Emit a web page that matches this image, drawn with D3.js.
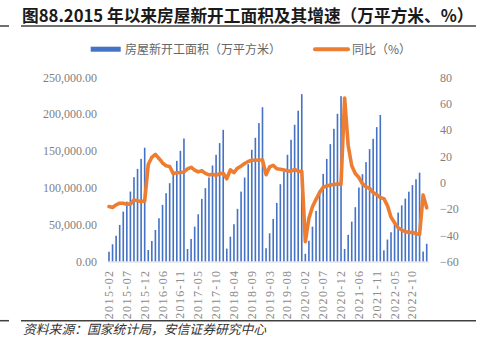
<!DOCTYPE html>
<html><head><meta charset="utf-8">
<script src="https://cdn.jsdelivr.net/npm/d3@7/dist/d3.min.js"></script>
<style>
html,body{margin:0;padding:0;background:#fff;}
svg{display:block;}
</style></head>
<body>
<svg id="chart" width="480" height="339"></svg>
<script>
const title = "图88.2015 年以来房屋新开工面积及其增速（万平方米、%）";
const source = "资料来源：国家统计局，安信证券研究中心";
const seriesNames = ["房屋新开工面积（万平方米）", "同比（%）"];
const categories = [
"2015-02","2015-03","2015-04","2015-05","2015-06","2015-07","2015-08","2015-09","2015-10","2015-11","2015-12",
"2016-02","2016-03","2016-04","2016-05","2016-06","2016-07","2016-08","2016-09","2016-10","2016-11","2016-12",
"2017-02","2017-03","2017-04","2017-05","2017-06","2017-07","2017-08","2017-09","2017-10","2017-11","2017-12",
"2018-02","2018-03","2018-04","2018-05","2018-06","2018-07","2018-08","2018-09","2018-10","2018-11","2018-12",
"2019-02","2019-03","2019-04","2019-05","2019-06","2019-07","2019-08","2019-09","2019-10","2019-11","2019-12",
"2020-02","2020-03","2020-04","2020-05","2020-06","2020-07","2020-08","2020-09","2020-10","2020-11","2020-12",
"2021-02","2021-03","2021-04","2021-05","2021-06","2021-07","2021-08","2021-09","2021-10","2021-11","2021-12",
"2022-02","2022-03","2022-04","2022-05","2022-06","2022-07","2022-08","2022-09","2022-10","2022-11","2022-12",
"2023-02","2023-03"];
const area = [
13300,23400,35000,49600,67700,81300,94900,114400,125700,139300,154454,
15600,27900,42800,58700,76800,92700,106300,119900,136600,150200,166928,
17000,30600,47300,64100,85000,99500,114000,130300,144800,160700,178654,
17500,33700,50600,71400,94900,114000,132100,151600,167900,187900,209342,
18000,38300,57800,79500,104900,122000,144800,165200,185600,204600,227154,
10370,28203,47300,68700,97200,118900,139300,159300,180100,200500,224433,
17035,36163,54100,73700,100400,118500,134900,152500,166500,182400,198895,
15115,29838,39739,51628,66423,76220,85341,94767,103722,111632,120587,
13567,24121];
const yoy = [
-18.2,-19.0,-17.0,-15.7,-15.7,-16.4,-16.4,-13.2,-13.9,-14.4,-14.0,
13.7,19.2,21.4,18.3,14.9,12.8,12.2,6.8,7.4,7.6,8.1,
10.4,11.6,9.5,8.1,9.0,7.0,5.8,6.3,5.5,6.8,7.0,
2.9,9.7,7.5,10.9,12.5,14.5,16.0,17.0,17.0,17.2,17.2,
6.0,11.9,13.1,10.5,10.1,9.5,8.9,8.6,10.0,8.6,8.5,
-44.9,-27.2,-18.4,-12.8,-7.6,-3.6,-2.6,-1.9,-1.4,-1.2,-1.2,
64.3,28.2,12.8,6.9,3.8,-0.9,-3.2,-4.5,-7.7,-9.1,-11.4,
-12.2,-17.5,-26.3,-30.6,-34.4,-36.1,-37.2,-38.0,-37.8,-38.9,-39.4,
-9.4,-19.2];
const leftTicks = [0,50000,100000,150000,200000,250000];
const rightTicks = [-60,-40,-20,0,20,40,60,80];
const xTickLabels = categories.filter((d,i)=> i % 5 === 0);

const svg = d3.select("#chart");
const BLUE = "#4472C4", ORANGE = "#ED7D31";
const cjk = "'Noto Sans CJK SC','Noto Sans',sans-serif";
const serif = "'Liberation Serif','Times New Roman',serif";

const x = d3.scaleBand().domain(categories).range([107.2, 428.5]).paddingInner(0.55).paddingOuter(0.275);
const yL = d3.scaleLinear().domain([0, 250000]).range([261.5, 77.3]);
const yR = d3.scaleLinear().domain([-60, 80]).range([261.5, 77.3]);

// title
svg.append("text").attr("x", 22).attr("y", 21.5)
  .attr("font-family", cjk).attr("font-weight", "bold").attr("font-size", 16.7)
  .attr("fill", "#1a1a1a").text(title);
svg.append("line").attr("x1", 21).attr("x2", 476).attr("y1", 26).attr("y2", 26).attr("stroke", "#404040").attr("stroke-width", 1.5);
svg.append("line").attr("x1", 0).attr("x2", 9).attr("y1", 26).attr("y2", 26).attr("stroke", "#404040").attr("stroke-width", 1.5);

// legend
const lg = svg.append("g");
lg.append("rect").attr("x", 90.7).attr("y", 46.7).attr("width", 30).attr("height", 5).attr("fill", BLUE);
lg.append("text").attr("x", 125).attr("y", 53.5).attr("font-family", cjk).attr("font-size", 12)
  .attr("fill", "#666").text(seriesNames[0]);
lg.append("line").attr("x1", 315).attr("x2", 348).attr("y1", 49.2).attr("y2", 49.2)
  .attr("stroke", ORANGE).attr("stroke-width", 4).attr("stroke-linecap", "round");
lg.append("text").attr("x", 352).attr("y", 53.5).attr("font-family", cjk).attr("font-size", 12)
  .attr("fill", "#666").text(seriesNames[1]);

// bars
svg.append("g").selectAll("rect").data(area).join("rect")
  .attr("x", (d,i)=> x(categories[i]))
  .attr("width", x.bandwidth())
  .attr("y", d => yL(d))
  .attr("height", d => yL(0) - yL(d))
  .attr("fill", BLUE);

// x axis
const xAxis = svg.append("g").attr("transform", `translate(0,${yL(0)})`)
  .call(d3.axisBottom(x).tickValues(xTickLabels).tickSize(0).tickPadding(0));
xAxis.select(".domain").attr("stroke", "#d9d9d9").attr("stroke-width", 1);
xAxis.selectAll("text")
  .attr("transform", "rotate(-90)")
  .attr("x", -8).attr("y", 0).attr("dy", "0.33em")
  .attr("text-anchor", "end")
  .attr("letter-spacing", "1.4px")
  .attr("font-family", serif).attr("font-size", 12).attr("fill", "#8c8c8c");

// left axis
const la = svg.append("g").attr("transform", "translate(107,0)")
  .call(d3.axisLeft(yL).tickValues(leftTicks).tickFormat(d3.format(",.2f")).tickSize(0).tickPadding(10));
la.select(".domain").remove();
la.selectAll("text").attr("font-family", serif).attr("font-size", 12).attr("fill", "#7f7f7f");

// right axis
const ra = svg.append("g").attr("transform", "translate(430,0)")
  .call(d3.axisRight(yR).tickValues(rightTicks).tickFormat(d3.format("d")).tickSize(0).tickPadding(10));
ra.select(".domain").remove();
ra.selectAll("text").attr("font-family", serif).attr("font-size", 12).attr("fill", "#7f7f7f");

// line
const line = d3.line().x((d,i)=> x(categories[i]) + x.bandwidth()/2).y(d => yR(d));
svg.append("path").datum(yoy).attr("d", line)
  .attr("fill", "none").attr("stroke", ORANGE).attr("stroke-width", 3.6)
  .attr("stroke-linejoin", "round").attr("stroke-linecap", "round");

// source
svg.append("line").attr("x1", 21).attr("x2", 476).attr("y1", 320.7).attr("y2", 320.7).attr("stroke", "#404040").attr("stroke-width", 1.5);
svg.append("line").attr("x1", 0).attr("x2", 9).attr("y1", 320.7).attr("y2", 320.7).attr("stroke", "#404040").attr("stroke-width", 1.5);
svg.append("text").attr("x", 23).attr("y", 333.5).attr("font-family", cjk).attr("font-style", "italic")
  .attr("font-size", 12.8).attr("fill", "#333").text(source);
</script>
</body></html>
